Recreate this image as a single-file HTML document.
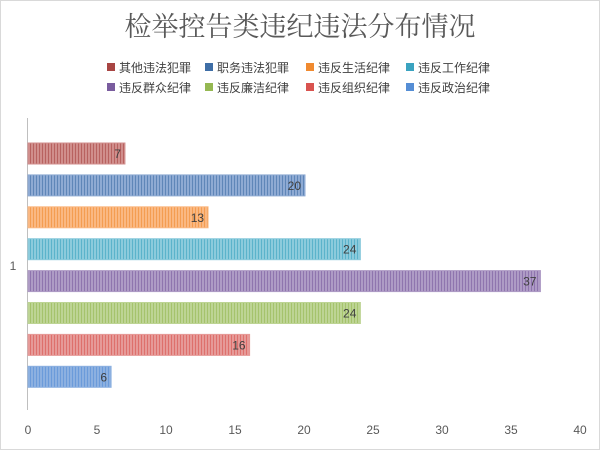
<!DOCTYPE html>
<html><head><meta charset="utf-8"><style>
body{margin:0;background:#fff}
svg{display:block;font-family:"Liberation Sans","Noto Sans CJK SC",sans-serif}
</style></head><body>
<svg id="c" width="600" height="450">
<defs></defs>
<rect x="0.5" y="0.5" width="599" height="449" fill="#fff" stroke="#d9d9d9"/>
<text x="300" y="36" text-anchor="middle" font-size="27" fill="#595959" font-family="'Liberation Serif','Noto Serif CJK SC',serif">检举控告类违纪违法分布情况</text>
<g id="legend"></g>
<line x1="27.5" y1="118" x2="27.5" y2="410" stroke="#bfbfbf"/>
<text x="13" y="270" text-anchor="middle" font-size="12" fill="#595959">1</text>
<g id="ticks"></g>
<g id="bars"></g>
</svg>
<script>
const series=["其他违法犯罪","职务违法犯罪","违反生活纪律","违反工作纪律","违反群众纪律","违反廉洁纪律","违反组织纪律","违反政治纪律"];
const values=[7,20,13,24,37,24,16,6];
const ticks=[0,5,10,15,20,25,30,35,40];
const colors=["#a84543","#3f6ea6","#f08a30","#3aa3c0","#7a5c9e","#95b852","#d9534f","#558ed5"];
const light=["#d08e8c","#8eaad3","#fab882","#8ccbdc","#ae9bc5","#bdd494","#e69a98","#8cb0e0"];
const NS="http://www.w3.org/2000/svg";
const svg=document.getElementById('c');
const defs=svg.querySelector('defs');
const x0=28,x1=582,max=40;
const X=v=>x0+v/max*(x1-x0);
const Y=i=>143+i*31.9;
function mk(t,a,p){const e=document.createElementNS(NS,t);for(const k in a)e.setAttribute(k,a[k]);p.appendChild(e);return e;}
ticks.forEach(t=>{
 const e=mk('text',{x:28+t/max*552,y:434,'text-anchor':'middle','font-size':12,fill:'#595959'},document.getElementById('ticks'));
 
 
 e.textContent=t;
});
values.forEach((v,i)=>{
 const p=mk('pattern',{id:'p'+i,patternUnits:'userSpaceOnUse',width:3,height:4},defs);
 mk('rect',{width:3,height:4,fill:light[i]},p);
 mk('rect',{width:1,height:4,fill:colors[i],opacity:0.6},p);
 const r=mk('rect',{x:x0,y:Y(i),width:X(v)-x0,height:21,fill:'url(#p'+i+')',stroke:light[i]},document.getElementById('bars'));
 
 
 const t=mk('text',{x:X(v)-4,y:Y(i)+15,'text-anchor':'end','font-size':12,fill:'#404040'},document.getElementById('bars'));
 
 
 t.textContent=v;
});
const lx=[107,205,306,406];
series.forEach((s,i)=>{
 const g=mk('g',{},document.getElementById('legend'));
 
 
 const x=lx[i%4],y=i<4?68:88;
 mk('rect',{x:x,y:y-5,width:8,height:8,fill:colors[i]},g);
 const t=mk('text',{x:x+12,y:y+4,'font-size':12,fill:'#404040'},g);
 t.textContent=s;
});
</script>
</body></html>
